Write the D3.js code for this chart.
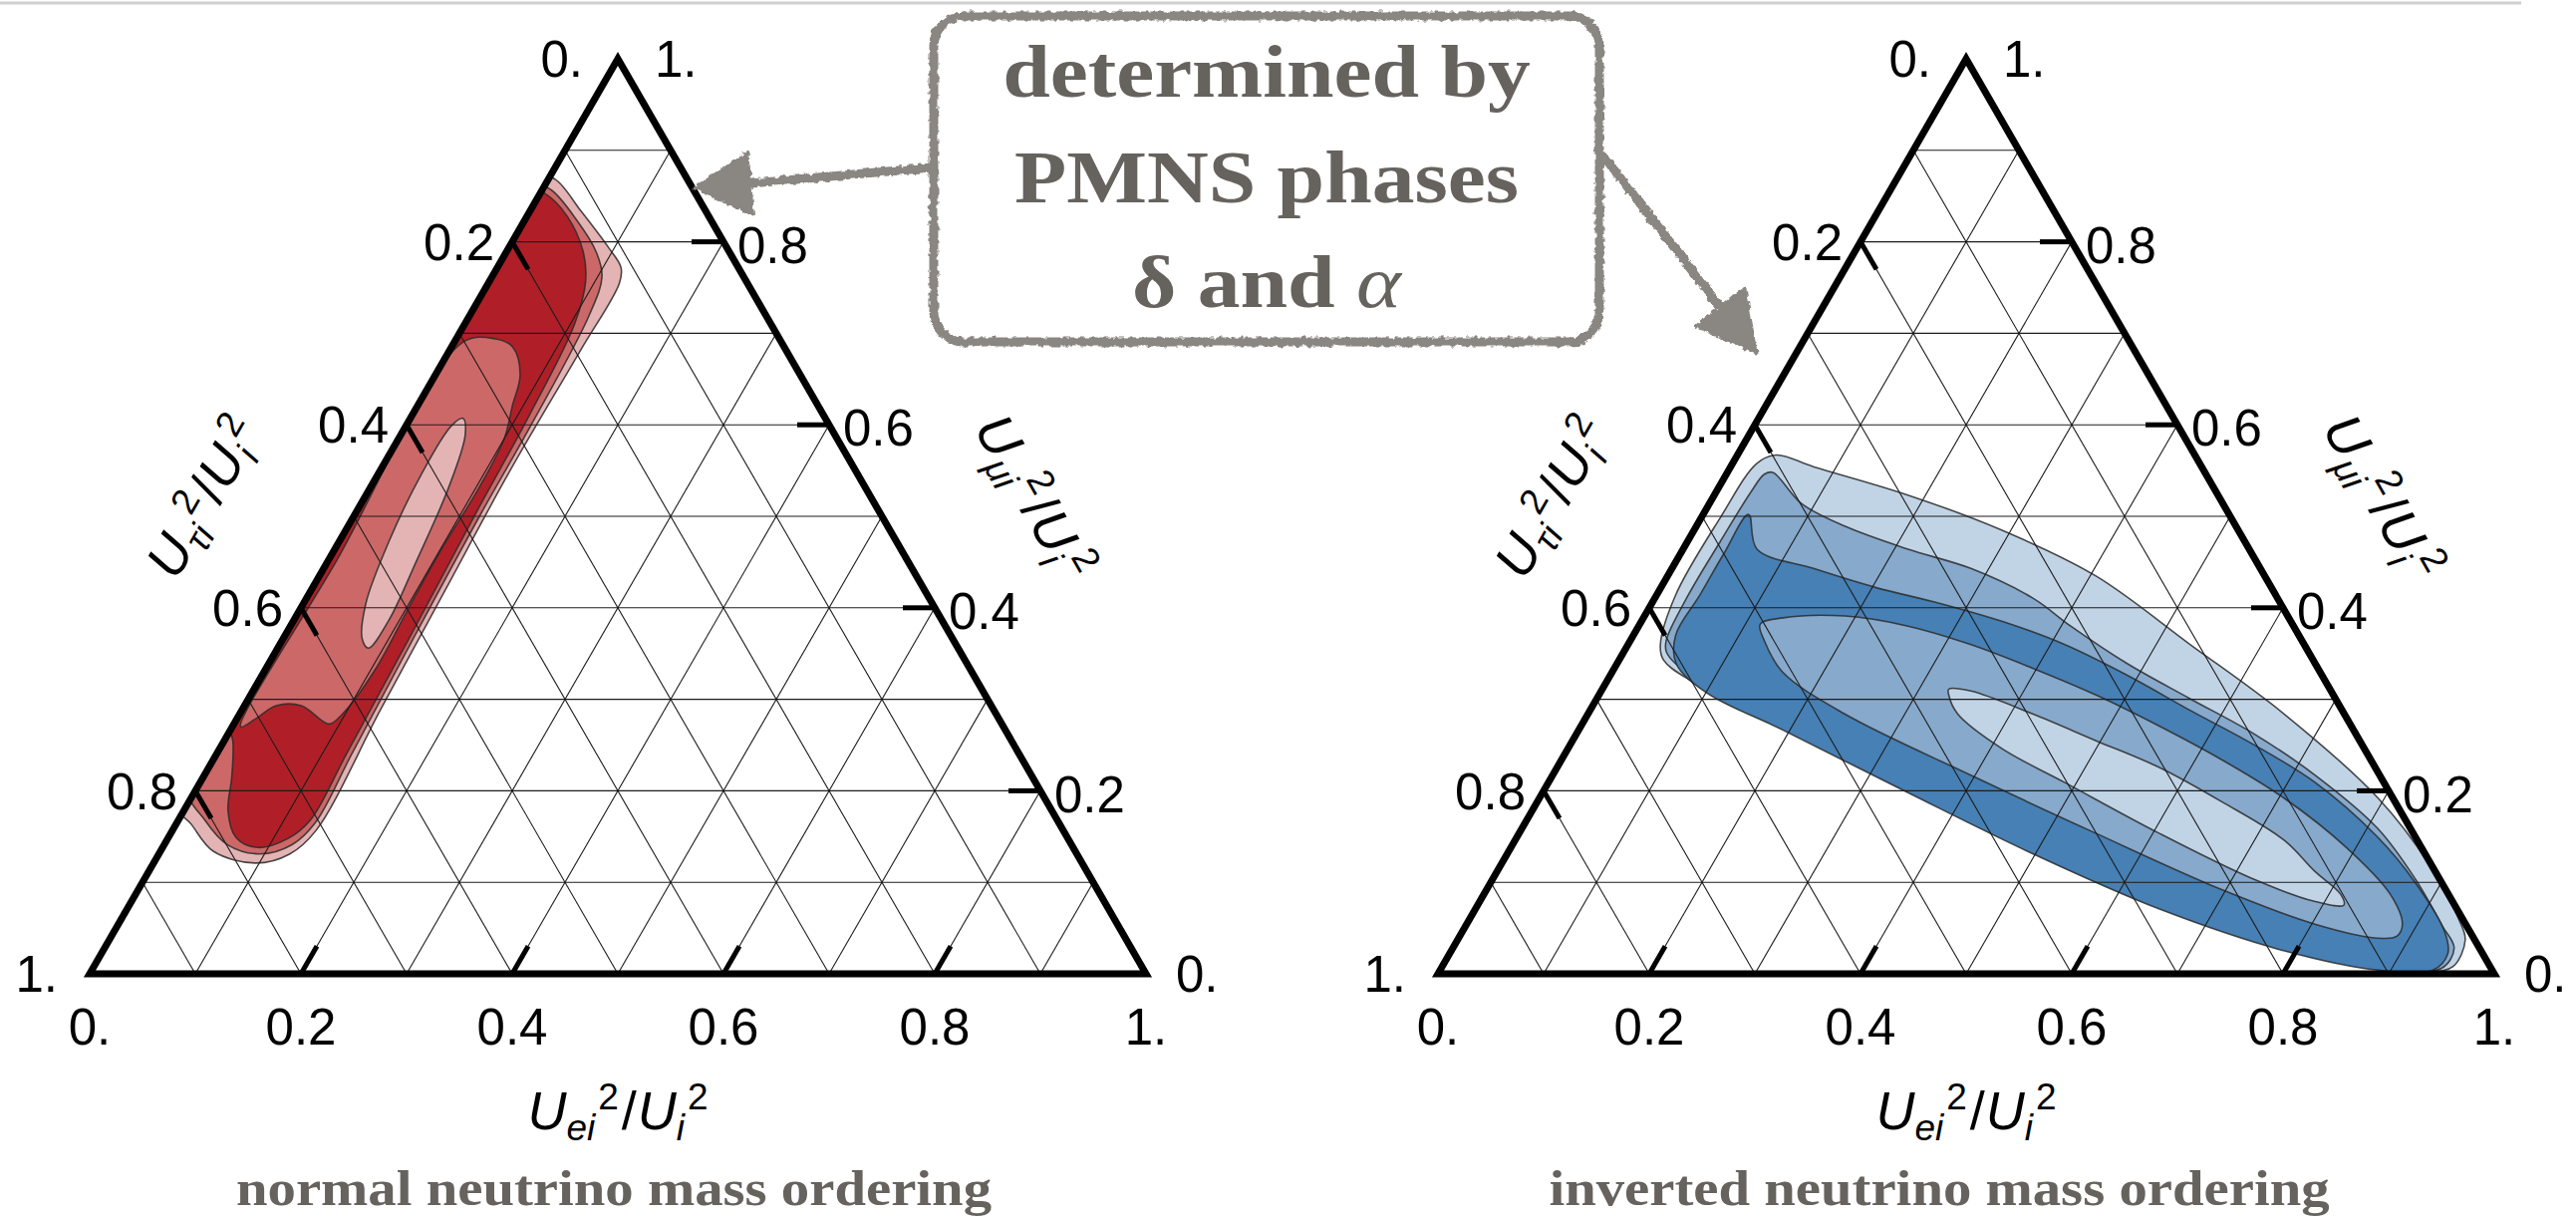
<!DOCTYPE html>
<html>
<head>
<meta charset="utf-8">
<script src="https://cdn.jsdelivr.net/npm/d3@7"></script>
<style>
  html, body { margin: 0; padding: 0; background: #fff; }
  svg { display: block; }
</style>
</head>
<body>
<svg id="chart" width="2585" height="1222"></svg>
<script>
// ---------- data ----------
// tick positions and labels shared by the three ternary axes
const axisTicks = [0, 0.2, 0.4, 0.6, 0.8, 1];
const axisTickLabels = ["0.", "0.2", "0.4", "0.6", "0.8", "1."];
const gridValues = [0.1, 0.2, 0.3, 0.4, 0.5, 0.6, 0.7, 0.8, 0.9];

// filled contour regions; every vertex is [U_e^2/U^2, U_mu^2/U^2]
// normal ordering
const normalOuter = [[-0.01,0.872],[0.007,0.868],[0.049,0.833],[0.094,0.794],[0.117,0.772],[0.124,0.755],[0.124,0.682],[0.123,0.551],[0.127,0.415],[0.131,0.289],[0.136,0.157],[0.124,0.131],[0.097,0.121],[0.05,0.134],[0.015,0.163],[-0.01,0.185],[-0.01,0.5]];
const normalMiddle = [[-0.01,0.862],[0.008,0.857],[0.05,0.823],[0.085,0.789],[0.104,0.762],[0.113,0.72],[0.118,0.6],[0.119,0.5],[0.123,0.37],[0.128,0.24],[0.131,0.165],[0.121,0.141],[0.096,0.131],[0.06,0.141],[0.025,0.168],[-0.01,0.205],[-0.01,0.5]];
const normalCore = [[-0.01,0.857],[0.006,0.852],[0.038,0.828],[0.072,0.79],[0.091,0.757],[0.104,0.71],[0.111,0.61],[0.114,0.5],[0.119,0.37],[0.123,0.24],[0.125,0.168],[0.114,0.148],[0.09,0.138],[0.064,0.149],[0.042,0.178],[0.027,0.215],[0.008,0.255],[-0.01,0.28],[-0.01,0.6]];
const normalRingMiddle = [[0.008,0.69],[0.037,0.694],[0.058,0.685],[0.08,0.655],[0.09,0.62],[0.1,0.585],[0.103,0.53],[0.101,0.463],[0.102,0.4],[0.104,0.332],[0.097,0.283],[0.09,0.273],[0.054,0.293],[0.03,0.293],[0.018,0.279],[0.008,0.27],[0.008,0.45]];
const normalRingCore = [[0.050,0.607],[0.061,0.589],[0.074,0.532],[0.084,0.449],[0.090,0.386],[0.086,0.356],[0.075,0.366],[0.059,0.405],[0.047,0.473],[0.041,0.546],[0.043,0.599]];

// inverted ordering
const invertedOuter = [[0.037,0.567],[0.079,0.554],[0.184,0.523],[0.291,0.485],[0.405,0.435],[0.532,0.360],[0.659,0.284],[0.794,0.192],[0.877,0.121],[0.938,0.058],[0.954,0.037],[0.957,0.008],[0.935,0.002],[0.887,0.006],[0.786,0.029],[0.645,0.075],[0.494,0.138],[0.343,0.205],[0.190,0.272],[0.076,0.322],[0.042,0.343],[0.031,0.359],[0.018,0.414],[0.018,0.498],[0.023,0.558]];
const invertedMiddle = [[0.043,0.548],[0.087,0.514],[0.141,0.489],[0.213,0.464],[0.283,0.443],[0.359,0.410],[0.409,0.380],[0.483,0.339],[0.561,0.301],[0.640,0.263],[0.722,0.217],[0.810,0.159],[0.873,0.104],[0.925,0.052],[0.948,0.028],[0.947,0.006],[0.886,0.008],[0.784,0.033],[0.642,0.081],[0.491,0.144],[0.339,0.211],[0.187,0.278],[0.073,0.328],[0.041,0.351],[0.034,0.364],[0.030,0.414],[0.031,0.472],[0.033,0.527],[0.036,0.546]];
const invertedCore = [[0.043,0.502],[0.070,0.464],[0.134,0.443],[0.204,0.422],[0.272,0.405],[0.342,0.385],[0.413,0.360],[0.490,0.326],[0.568,0.288],[0.646,0.251],[0.726,0.209],[0.814,0.150],[0.875,0.100],[0.930,0.046],[0.945,0.022],[0.940,0.004],[0.888,0.004],[0.789,0.025],[0.647,0.071],[0.498,0.131],[0.346,0.198],[0.192,0.267],[0.101,0.307],[0.056,0.339],[0.040,0.370],[0.041,0.414],[0.041,0.460]];
const invertedRingMiddle = [[0.114,0.382],[0.132,0.389],[0.190,0.391],[0.255,0.380],[0.324,0.360],[0.396,0.334],[0.470,0.305],[0.547,0.271],[0.625,0.234],[0.705,0.192],[0.791,0.138],[0.858,0.087],[0.886,0.054],[0.887,0.041],[0.870,0.039],[0.804,0.054],[0.696,0.092],[0.545,0.154],[0.396,0.217],[0.243,0.284],[0.161,0.330],[0.127,0.364]];
const invertedRingCore = [[0.328,0.311],[0.350,0.309],[0.421,0.284],[0.495,0.255],[0.569,0.226],[0.648,0.188],[0.728,0.146],[0.774,0.112],[0.811,0.087],[0.820,0.075],[0.791,0.079],[0.719,0.104],[0.605,0.154],[0.489,0.209],[0.411,0.246],[0.350,0.284],[0.331,0.305]];

const redShades = ["#e4b4b4", "#cc6868", "#b01f27"];
const blueShades = ["#c1d4e6", "#86a9cc", "#4680b5"];

const panelTitles = ["normal neutrino mass ordering", "inverted neutrino mass ordering"];
const axisSubscripts = { e: "ei", mu: "\u03BCi", tau: "\u03C4i" };
const calloutLines = ["determined by", "PMNS phases", "\u03B4 and \u03B1"];

// ---------- layout ----------
const SANS = "'Liberation Sans', Arial, Helvetica, sans-serif";
const SERIF = "'Liberation Serif', 'Times New Roman', serif";
const SIDE = 1060;
const BASE_Y = 977;
const TRI_H = SIDE * Math.sqrt(3) / 2;
const TICK_LEN = 32;
const LABEL_SIZE = 51;
const GREY_TEXT = "#66625d";
const GREY_BOX = "#8a8681";

const panels = [
  { x0: 90, layers: [normalOuter, normalMiddle, normalCore, normalRingMiddle, normalRingCore], shades: redShades, title: panelTitles[0], titleX: 616 },
  { x0: 1443, layers: [invertedOuter, invertedMiddle, invertedCore, invertedRingMiddle, invertedRingCore], shades: blueShades, title: panelTitles[1], titleX: 1946 }
];
// layer index -> shade index (outer, middle, core, inner middle, inner core)
const layerShade = [0, 1, 2, 1, 0];

const svg = d3.select("#chart");
const defs = svg.append("defs");

// hand-drawn look for the callout box and arrows
const rough = defs.append("filter").attr("id", "rough")
  .attr("x", "-10%").attr("y", "-10%").attr("width", "120%").attr("height", "120%");
rough.append("feTurbulence").attr("type", "fractalNoise").attr("baseFrequency", 0.18)
  .attr("numOctaves", 2).attr("seed", 7).attr("result", "noise");
rough.append("feDisplacementMap").attr("in", "SourceGraphic").attr("in2", "noise")
  .attr("scale", 6).attr("xChannelSelector", "R").attr("yChannelSelector", "G");

// faint rule across the top
svg.append("line").attr("x1", 0).attr("x2", 2530).attr("y1", 3).attr("y2", 3)
  .attr("stroke", "#cfcfcf").attr("stroke-width", 3);

function ratioTitle(sel, sub) {
  const t = sel.append("text").attr("font-family", SANS).attr("font-size", 54)
    .attr("text-anchor", "middle").attr("fill", "#000");
  t.append("tspan").attr("font-style", "italic").text("U");
  t.append("tspan").attr("font-style", "italic").attr("font-size", 37).attr("dy", 11).text(sub);
  t.append("tspan").attr("font-size", 37).attr("dx", 3).attr("dy", -31).text("2");
  t.append("tspan").attr("dx", 3).attr("dy", 20).text("/");
  t.append("tspan").attr("font-style", "italic").attr("dx", 1).text("U");
  t.append("tspan").attr("font-style", "italic").attr("font-size", 37).attr("dy", 11).text("i");
  t.append("tspan").attr("font-size", 37).attr("dx", 3).attr("dy", -31).text("2");
  return t;
}

panels.forEach((p, pi) => {
  const xs = d3.scaleLinear().domain([0, 1]).range([p.x0, p.x0 + SIDE]);
  const ys = d3.scaleLinear().domain([0, 1]).range([BASE_Y, BASE_Y - TRI_H]);
  // ternary point (e, mu) -> screen; tau = 1 - e - mu
  const pt = (e, mu) => [xs(e + mu / 2), ys(mu)];

  const g = svg.append("g").attr("class", "panel");
  const clipId = "tri-clip-" + pi;
  defs.append("clipPath").attr("id", clipId).append("path")
    .attr("d", "M" + pt(0, 0) + "L" + pt(1, 0) + "L" + pt(0, 1) + "Z");

  // contour regions
  const region = d3.line()
    .x(d => pt(d[0], d[1])[0])
    .y(d => pt(d[0], d[1])[1])
    .curve(d3.curveCatmullRomClosed.alpha(0.5));
  g.append("g").attr("clip-path", `url(#${clipId})`)
    .selectAll("path").data(p.layers).join("path")
    .attr("d", d => region(d))
    .attr("fill", (d, i) => p.shades[layerShade[i]])
    .attr("stroke", "#2b2b2b").attr("stroke-opacity", 0.85).attr("stroke-width", 1.6)
    .attr("stroke-linejoin", "round");

  // grid: constant mu (horizontal), constant e, constant tau
  const gridSegs = [];
  gridValues.forEach(v => {
    gridSegs.push([pt(0, v), pt(1 - v, v)]);
    gridSegs.push([pt(v, 0), pt(v, 1 - v)]);
    gridSegs.push([pt(1 - v, 0), pt(0, 1 - v)]);
  });
  g.append("g").selectAll("line").data(gridSegs).join("line")
    .attr("x1", d => d[0][0]).attr("y1", d => d[0][1])
    .attr("x2", d => d[1][0]).attr("y2", d => d[1][1])
    .attr("stroke", "#1c1c1c").attr("stroke-width", 1.1);

  // triangle frame
  g.append("path")
    .attr("d", "M" + pt(0, 0) + "L" + pt(1, 0) + "L" + pt(0, 1) + "Z")
    .attr("fill", "none").attr("stroke", "#000").attr("stroke-width", 7)
    .attr("stroke-linejoin", "miter").attr("stroke-miterlimit", 10);

  // tick marks pointing inward along the grid directions
  const inner = axisTicks.filter(v => v > 0 && v < 1);
  const ticks = [];
  inner.forEach(v => {
    const b = pt(v, 0);            // bottom axis: U_e
    ticks.push([b, [b[0] + TICK_LEN * 0.5, b[1] - TICK_LEN * 0.866]]);
    const l = pt(0, 1 - v);        // left axis: U_tau
    ticks.push([l, [l[0] + TICK_LEN * 0.5, l[1] + TICK_LEN * 0.866]]);
    const r = pt(1 - v, v);        // right axis: U_mu
    ticks.push([r, [r[0] - TICK_LEN, r[1]]]);
  });
  g.append("g").selectAll("line").data(ticks).join("line")
    .attr("x1", d => d[0][0]).attr("y1", d => d[0][1])
    .attr("x2", d => d[1][0]).attr("y2", d => d[1][1])
    .attr("stroke", "#000").attr("stroke-width", 5);

  // tick labels
  const lab = g.append("g").attr("font-family", SANS).attr("font-size", LABEL_SIZE).attr("fill", "#000");
  const midShift = LABEL_SIZE * 0.358;
  axisTicks.forEach((v, i) => {
    const txt = axisTickLabels[i];
    // bottom
    const b = pt(v, 0);
    lab.append("text").attr("x", b[0]).attr("y", 1048).attr("text-anchor", "middle").text(txt);
    // left (tau)
    const l = pt(0, 1 - v);
    const lOff = (v === 0) ? 35 : (v === 1 ? 32 : 18);
    lab.append("text").attr("x", l[0] - lOff).attr("y", l[1] + midShift)
      .attr("text-anchor", "end").text(txt);
    // right (mu)
    const r = pt(1 - v, v);
    const rOff = (v === 1) ? 37 : (v === 0 ? 30 : 14);
    lab.append("text").attr("x", r[0] + rOff).attr("y", r[1] + midShift + (v > 0 && v < 1 ? 3 : 0))
      .attr("text-anchor", "start").text(txt);
  });

  // axis titles
  ratioTitle(g, axisSubscripts.e).attr("x", xs(0.5)).attr("y", 1133);
  const lm = pt(0, 0.52);
  ratioTitle(g.append("g").attr("transform", `translate(${lm[0] - 160},${lm[1]}) rotate(-60)`), axisSubscripts.tau)
    .attr("x", 0).attr("y", 17);
  const rm = pt(0.48, 0.52);
  ratioTitle(g.append("g").attr("transform", `translate(${rm[0] + 162},${rm[1]}) rotate(60)`), axisSubscripts.mu)
    .attr("x", 0).attr("y", 17);

  // panel caption
  g.append("g").attr("transform", `translate(${p.titleX},1209) scale(1.135,1)`)
    .append("text").attr("x", 0).attr("y", 0).attr("text-anchor", "middle")
    .attr("font-family", SERIF).attr("font-weight", "bold").attr("font-size", 50)
    .attr("fill", GREY_TEXT).text(p.title);
});

// ---------- callout ----------
const callout = svg.append("g").attr("class", "callout");
const sketch = callout.append("g").attr("filter", "url(#rough)");
sketch.append("rect").attr("x", 937).attr("y", 16).attr("width", 668).attr("height", 327)
  .attr("rx", 30).attr("fill", "#fff").attr("stroke", GREY_BOX).attr("stroke-width", 9);

const arrows = [
  { from: [936, 168], tip: [697, 189], len: 56, half: 31 },
  { from: [1604, 150], tip: [1762, 354], len: 58, half: 31 }
];
arrows.forEach(a => {
  const dx = a.tip[0] - a.from[0], dy = a.tip[1] - a.from[1];
  const L = Math.hypot(dx, dy), ux = dx / L, uy = dy / L;
  const base = [a.tip[0] - ux * a.len, a.tip[1] - uy * a.len];
  sketch.append("line").attr("x1", a.from[0]).attr("y1", a.from[1])
    .attr("x2", base[0] + ux * 6).attr("y2", base[1] + uy * 6)
    .attr("stroke", GREY_BOX).attr("stroke-width", 9).attr("stroke-linecap", "round");
  const c1 = [base[0] - uy * a.half, base[1] + ux * a.half];
  const c2 = [base[0] + uy * a.half, base[1] - ux * a.half];
  sketch.append("path").attr("d", "M" + a.tip + "L" + c1 + "L" + c2 + "Z")
    .attr("fill", GREY_BOX).attr("stroke", GREY_BOX).attr("stroke-width", 3)
    .attr("stroke-linejoin", "round");
});

const calloutBaselines = [97, 203, 308];
const ct = callout.append("g").attr("transform", "translate(1271,0) scale(1.14,1)")
  .attr("font-family", SERIF).attr("font-weight", "bold").attr("font-size", 75)
  .attr("fill", GREY_TEXT).attr("text-anchor", "middle");
calloutLines.forEach((line, i) => {
  const t = ct.append("text").attr("x", 0).attr("y", calloutBaselines[i]);
  const parts = line.split("\u03B1");
  if (parts.length > 1) {
    t.append("tspan").text(parts[0]);
    t.append("tspan").attr("font-style", "italic").attr("font-weight", "normal").text("\u03B1");
  } else {
    t.text(line);
  }
});
</script>
</body>
</html>
